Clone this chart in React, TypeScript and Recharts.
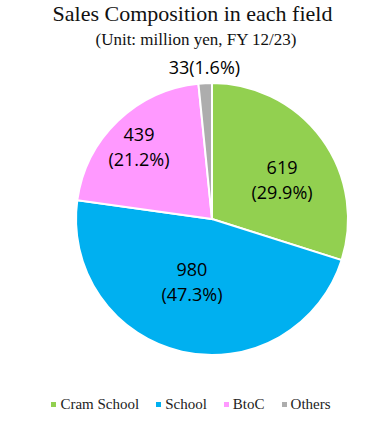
import { PieChart, Pie, Cell, Legend } from "recharts";

const categories = ["Cram School", "School", "BtoC", "Others"];
const sales = [619, 980, 439, 33];

const colors = ["#92D050", "#00B0F0", "#FF99FF", "#ADADAD"];
// label placement: share of the radius, and a small turn off the slice's mid angle
const labelPlace: Record<string, { r: number; turn: number }> = {
  "Cram School": { r: 0.593, turn: -6.5 },
  School: { r: 0.486, turn: -4.9 },
  BtoC: { r: 0.754, turn: 1.5 },
  Others: { r: 1.12, turn: 0 },
};

const RADIAN = Math.PI / 180;
const labelFont = "Open Sans, sans-serif";
const serif = "Liberation Serif, Times New Roman, DejaVu Serif, serif";

const data = categories.map((name, i) => ({ name, value: sales[i] }));

function renderLabel(props: any) {
  const { cx, cy, midAngle, outerRadius, percent, name, value } = props;
  const place = labelPlace[name] ?? { r: 0.6, turn: 0 };
  const r = outerRadius * place.r;
  const a = (midAngle + place.turn) * RADIAN;
  const x = cx + r * Math.cos(-a);
  const y = cy + r * Math.sin(-a);
  const pct = (percent * 100).toFixed(1) + "%";

  if (name === "Others") {
    return (
      <text
        x={x}
        y={y}
        textAnchor="middle"
        dominantBaseline="central"
        fontFamily={labelFont}
        fontSize={18}
        fill="#000"
      >
        {`${value}(${pct})`}
      </text>
    );
  }

  return (
    <text
      x={x}
      y={y}
      textAnchor="middle"
      fontFamily={labelFont}
      fontSize={18}
      fill="#000"
    >
      <tspan x={x} dy={-12.5} dominantBaseline="central">
        {value}
      </tspan>
      <tspan x={x} dy={25} dominantBaseline="central">
        {`(${pct})`}
      </tspan>
    </text>
  );
}

function LegendContent() {
  return (
    <div
      style={{
        display: "flex",
        justifyContent: "center",
        alignItems: "center",
        gap: 17,
        fontFamily: serif,
        fontSize: 15,
        color: "#222",
        paddingRight: 6,
      }}
    >
      {categories.map((name, i) => (
        <div key={name} style={{ display: "flex", alignItems: "center" }}>
          <span
            style={{
              display: "inline-block",
              width: 5,
              height: 5,
              background: colors[i],
              marginRight: 4,
            }}
          />
          <span>{name}</span>
        </div>
      ))}
    </div>
  );
}

export default function App() {
  return (
    <div
      style={{
        position: "absolute",
        left: 0,
        top: 0,
        width: 388,
        height: 426,
        background: "#fff",
      }}
    >
      <div
        style={{
          position: "absolute",
          top: 3,
          left: 0,
          width: 385,
          textAlign: "center",
          fontFamily: serif,
          fontSize: 22,
          lineHeight: 1,
          color: "#111",
        }}
      >
        Sales Composition in each field
      </div>
      <div
        style={{
          position: "absolute",
          top: 31,
          left: 0,
          width: 392,
          textAlign: "center",
          fontFamily: serif,
          fontSize: 17,
          lineHeight: 1,
          color: "#111",
        }}
      >
        (Unit: million yen, FY 12/23)
      </div>
      <PieChart
        width={388}
        height={426}
        margin={{ top: 0, right: 0, bottom: 0, left: 0 }}
        style={{ position: "absolute", top: 0, left: 0 }}
      >
        <Pie
          data={data}
          dataKey="value"
          nameKey="name"
          cx={212}
          cy={219}
          outerRadius={136}
          startAngle={90}
          endAngle={-270}
          stroke="#fff"
          strokeWidth={2}
          label={renderLabel}
          labelLine={false}
          isAnimationActive={false}
        >
          {data.map((d, i) => (
            <Cell key={d.name} fill={colors[i]} />
          ))}
        </Pie>
        <Legend
          content={<LegendContent />}
          wrapperStyle={{ position: "absolute", top: 396, left: 0, width: 388 }}
        />
      </PieChart>
    </div>
  );
}
